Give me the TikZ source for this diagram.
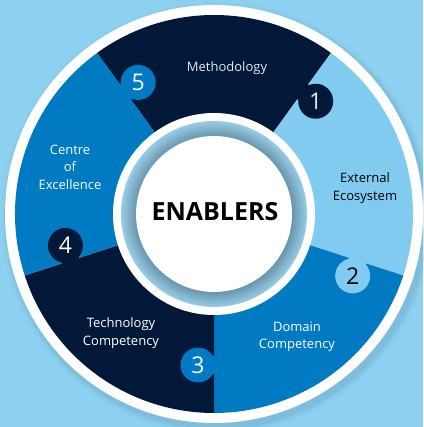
\documentclass[tikz,border=0pt]{standalone}
\usepackage{fontspec}
\setmainfont{Open Sans}
\usepackage{tikz}

\definecolor{bgblue}{RGB}{141,209,241}
\definecolor{shadowc}{RGB}{60,100,125}
\definecolor{navy}{RGB}{1,24,56}
\definecolor{extblue}{RGB}{128,203,239}
\definecolor{midblue}{RGB}{0,122,194}
\definecolor{txtlight}{RGB}{228,234,241}
\definecolor{ringdark}{RGB}{104,148,172}
\definecolor{ringlight}{RGB}{152,205,229}
\pgfdeclareradialshading{ringshade}{\pgfpoint{0bp}{0bp}}{color(0bp)=(ringdark); color(20.9bp)=(ringdark); color(25bp)=(ringlight); color(50bp)=(ringlight)}

\begin{document}
\begin{tikzpicture}[x=1pt,y=1pt,
    lbl/.style={font=\fontsize{13}{17.5}\selectfont, align=center, text=#1},
    num/.style={font=\fontsize{23}{23}\selectfont, text=#1}]
      % 背景
      \useasboundingbox (-214,-213) rectangle (209,214);
      \fill[bgblue] (-214,-213) rectangle (209,214);
      \foreach \r/\o in {216/0.04, 213/0.06, 211/0.08} {
        \fill[shadowc, opacity=\o] (3,-4) circle (\r);
      }

      % 外側の白い輪
      \fill[white] (0,0) circle (209);

      % ピース (始まりの角度/色)
      \foreach \s/\c in {54/navy, -18/extblue, -90/midblue, -162/navy, 126/midblue} {
        \fill[\c] (\s:199) arc[start angle=\s, end angle={\s+72}, radius=199]
          -- ({\s+72}:95) arc[start angle={\s+72}, end angle=\s, radius=95] -- cycle;
      }

      % 番号の突起
      \foreach \s/\c/\n/\t in {54/navy/1/txtlight, -18/extblue/2/black, -90/midblue/3/white,
                               -162/navy/4/white, 126/midblue/5/white} {
        \begin{scope}[rotate=\s]
          \fill[\c] (142,1) rectangle (160,-14);
          \fill[\c] (151,-16) circle (17.5);
          \node[num=\t] (k\n) at (151,-16) {\n};
        \end{scope}
      }

      % 中央の円
      \fill[white] (0,0) circle (101);
      \shade[shading=ringshade] (0,0) circle (93);
      \fill[white] (0,0) circle (78);

      \node[font=\bfseries\fontsize{25}{25}\selectfont] (enab) at (1,2) {ENABLERS};
      \node[lbl=txtlight] (meth) at (13,146) {Methodology};
      \node[lbl=black] (ext) at (151,26) {External\\Ecosystem};
      \node[lbl=white] (dom) at (83,-123) {Domain\\Competency};
      \node[lbl=white] (tech) at (-93,-119) {Technology\\Competency};
      \node[lbl=white] (coe) at (-144,47) {Centre\\of\\Excellence};
  \end{tikzpicture}
\end{document}
